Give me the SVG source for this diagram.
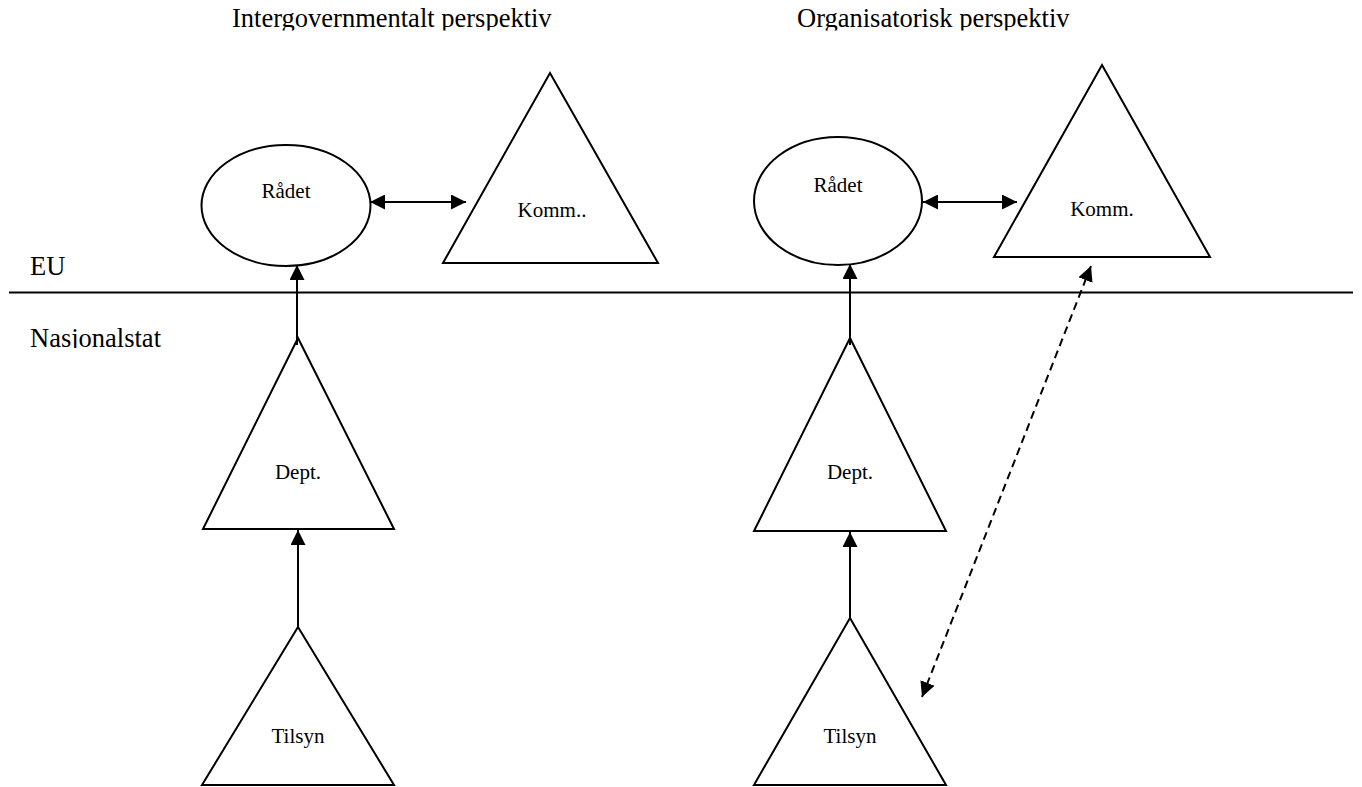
<svg xmlns="http://www.w3.org/2000/svg" width="1362" height="787" viewBox="0 0 1362 787">
<style>
.shape{fill:#fff;stroke:#000;stroke-width:2}
.conn{fill:none;stroke:#000;stroke-width:2}
.dash{stroke-dasharray:8 5}
.lbl{font-family:"Liberation Serif","Times New Roman",serif;font-size:21px;fill:#000;text-anchor:middle}
.big{font-family:"Liberation Serif","Times New Roman",serif;font-size:26.5px;fill:#000}
</style>
<defs>
<marker id="ah" viewBox="0 0 15 15" refX="15" refY="7.5" markerWidth="15" markerHeight="15" markerUnits="userSpaceOnUse" orient="auto-start-reverse">
<path d="M0,0 L15,7.5 L0,15 Z" fill="#000"/>
</marker>
<clipPath id="clipTop"><rect x="0" y="0" width="1362" height="30.5"/></clipPath>
<clipPath id="clipNat"><rect x="0" y="300" width="400" height="48"/></clipPath>
</defs>
<rect width="1362" height="787" fill="#fff"/>
<g id="titles">
<text class="big" x="232" y="27" clip-path="url(#clipTop)">Intergovernmentalt perspektiv</text>
<text class="big" x="797" y="27" clip-path="url(#clipTop)">Organisatorisk perspektiv</text>
<text class="big" x="30" y="275">EU</text>
<text class="big" x="30" y="346.5" clip-path="url(#clipNat)">Nasjonalstat</text>
</g>
<g id="divider"><line class="conn" x1="9" y1="292.5" x2="1353" y2="292.5"/></g>
<g id="radet-left"><ellipse class="shape" cx="286" cy="205.5" rx="84.5" ry="60.5"/><text class="lbl" x="286" y="198">Rådet</text></g>
<g id="komm-left"><polygon class="shape" points="550,73 658,263 443,263"/><text class="lbl" x="552" y="217">Komm..</text></g>
<g id="dept-left"><polygon class="shape" points="298,338 394,529 203,529"/><text class="lbl" x="298" y="479">Dept.</text></g>
<g id="tilsyn-left"><polygon class="shape" points="298,627 394,785 202,785"/><text class="lbl" x="298" y="743">Tilsyn</text></g>
<g id="radet-right"><ellipse class="shape" cx="838" cy="201" rx="84" ry="64"/><text class="lbl" x="838" y="192">Rådet</text></g>
<g id="komm-right"><polygon class="shape" points="1102,65 1210,257 994,257"/><text class="lbl" x="1102" y="216">Komm.</text></g>
<g id="dept-right"><polygon class="shape" points="850,338 946,531 754,531"/><text class="lbl" x="850" y="479">Dept.</text></g>
<g id="tilsyn-right"><polygon class="shape" points="850,618 946,785 754,785"/><text class="lbl" x="850" y="743">Tilsyn</text></g>
<g id="connectors">
<line class="conn" x1="370" y1="202" x2="466" y2="202" marker-start="url(#ah)" marker-end="url(#ah)"/>
<line class="conn" x1="297" y1="345" x2="297" y2="265" marker-end="url(#ah)"/>
<line class="conn" x1="298" y1="627" x2="298" y2="530" marker-end="url(#ah)"/>
<line class="conn" x1="923" y1="202" x2="1017" y2="202" marker-start="url(#ah)" marker-end="url(#ah)"/>
<line class="conn" x1="850" y1="345" x2="850" y2="264" marker-end="url(#ah)"/>
<line class="conn" x1="850" y1="618" x2="850" y2="532" marker-end="url(#ah)"/>
<line class="conn dash" x1="1091" y1="266" x2="922" y2="697" marker-start="url(#ah)" marker-end="url(#ah)"/>
</g>
</svg>
